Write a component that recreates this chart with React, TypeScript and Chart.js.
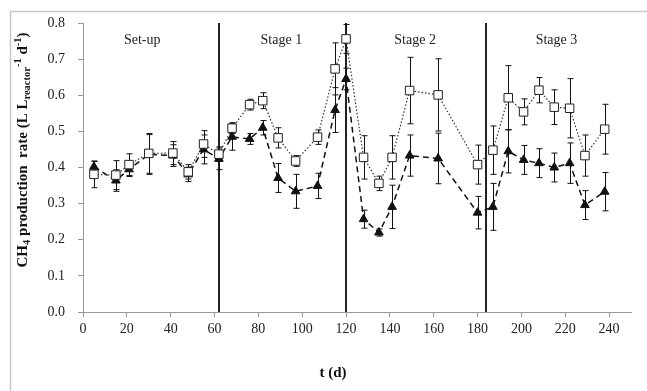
import React, { useEffect, useRef } from "react";
import { Chart, registerables } from "chart.js";

Chart.register(...registerables);

// ---- data ----
const days = [5, 15, 21, 30, 41, 48, 55, 62, 68, 76, 82, 89, 97, 107, 115, 120, 128, 135, 141, 149, 162, 180, 187, 194, 201, 208, 215, 222, 229, 238];
const squareValues = [0.381, 0.379, 0.408, 0.439, 0.44, 0.388, 0.465, 0.437, 0.509, 0.574, 0.585, 0.482, 0.418, 0.484, 0.673, 0.756, 0.428, 0.356, 0.428, 0.613, 0.601, 0.408, 0.448, 0.593, 0.554, 0.614, 0.567, 0.564, 0.433, 0.506];
const squareErrors = [0.037, 0.04, 0.03, 0.055, 0.032, 0.02, 0.037, 0.02, 0.015, 0.015, 0.022, 0.028, 0.015, 0.02, 0.072, 0.04, 0.06, 0.02, 0.06, 0.092, 0.1, 0.054, 0.067, 0.089, 0.036, 0.035, 0.048, 0.082, 0.057, 0.069];
const triangleValues = [0.402, 0.364, 0.395, 0.436, 0.433, 0.381, 0.45, 0.424, 0.485, 0.479, 0.51, 0.371, 0.334, 0.349, 0.559, 0.645, 0.257, 0.22, 0.291, 0.433, 0.425, 0.275, 0.291, 0.445, 0.421, 0.412, 0.4, 0.412, 0.296, 0.333];
const triangleErrors = [0.015, 0.03, 0.02, 0.055, 0.03, 0.02, 0.04, 0.03, 0.037, 0.015, 0.02, 0.04, 0.047, 0.035, 0.062, 0.03, 0.025, 0.01, 0.06, 0.057, 0.07, 0.045, 0.065, 0.06, 0.04, 0.04, 0.04, 0.056, 0.04, 0.053];
const stageBoundaries = [62, 120, 184];
const stageLabels = ["Set-up", "Stage 1", "Stage 2", "Stage 3"];
const stageLabelDays = [27, 90.5, 151.5, 216];
const stageLabelLevel = 0.753;
const xTitle = "t (d)";

const FONT = "'Liberation Serif', 'Times New Roman', serif";

const overlayPlugin = {
  id: "overlay",
  beforeDraw(chart: any) {
    const ctx = chart.ctx;
    ctx.save();
    ctx.fillStyle = "#ffffff";
    ctx.fillRect(0, 0, chart.width, chart.height);
    ctx.strokeStyle = "#c8c8c8";
    ctx.lineWidth = 1.5;
    ctx.beginPath();
    ctx.moveTo(10.5, chart.height);
    ctx.lineTo(10.5, 11.5);
    ctx.lineTo(chart.width, 11.5);
    ctx.stroke();
    ctx.restore();
  },
  beforeDatasetsDraw(chart: any) {
    const ctx = chart.ctx;
    const xs = chart.scales.x;
    const ys = chart.scales.y;
    ctx.save();
    // stage boundaries
    ctx.strokeStyle = "#222";
    ctx.lineWidth = 2;
    stageBoundaries.forEach((d) => {
      const px = Math.round(xs.getPixelForValue(d));
      ctx.beginPath();
      ctx.moveTo(px, ys.getPixelForValue(0.8));
      ctx.lineTo(px, ys.getPixelForValue(0));
      ctx.stroke();
    });
    // error bars
    ctx.strokeStyle = "#111";
    ctx.lineWidth = 1;
    const drawErr = (vals: number[], errs: number[]) => {
      vals.forEach((v, i) => {
        const px = Math.round(xs.getPixelForValue(days[i])) + 0.5;
        const top = ys.getPixelForValue(v + errs[i]);
        const bot = ys.getPixelForValue(v - errs[i]);
        ctx.beginPath();
        ctx.moveTo(px, top);
        ctx.lineTo(px, bot);
        ctx.moveTo(px - 3, top);
        ctx.lineTo(px + 3, top);
        ctx.moveTo(px - 3, bot);
        ctx.lineTo(px + 3, bot);
        ctx.stroke();
      });
    };
    drawErr(squareValues, squareErrors);
    drawErr(triangleValues, triangleErrors);
    // stage labels
    ctx.fillStyle = "#222";
    ctx.font = `14px ${FONT}`;
    ctx.textAlign = "center";
    ctx.textBaseline = "middle";
    stageLabels.forEach((s, i) => {
      ctx.fillText(s, xs.getPixelForValue(stageLabelDays[i]), ys.getPixelForValue(stageLabelLevel));
    });
    ctx.restore();
  },
  afterDraw(chart: any) {
    const ctx = chart.ctx;
    const area = chart.chartArea;
    ctx.save();
    ctx.fillStyle = "#111";
    // x title
    ctx.font = `bold 15px ${FONT}`;
    ctx.textAlign = "center";
    ctx.textBaseline = "middle";
    ctx.fillText(xTitle, (area.left + area.right) / 2 - 24, 373);
    // y title with sub/superscripts
    const segs = [
      { t: "CH", k: "n" },
      { t: "4", k: "sub" },
      { t: " production  rate (L L", k: "n" },
      { t: "reactor", k: "sub" },
      { t: "-1", k: "sup" },
      { t: " d", k: "n" },
      { t: "-1", k: "sup" },
      { t: ")", k: "n" },
    ];
    const fontFor = (k: string) => (k === "n" ? `bold 15px ${FONT}` : `bold 10.5px ${FONT}`);
    let total = 0;
    segs.forEach((s) => {
      ctx.font = fontFor(s.k);
      total += ctx.measureText(s.t).width;
    });
    ctx.translate(22, 150);
    ctx.rotate(-Math.PI / 2);
    ctx.textAlign = "left";
    ctx.textBaseline = "alphabetic";
    let x = -total / 2;
    segs.forEach((s) => {
      ctx.font = fontFor(s.k);
      const dy = s.k === "sub" ? 8 : s.k === "sup" ? -1.5 : 5;
      ctx.fillText(s.t, x, dy);
      x += ctx.measureText(s.t).width;
    });
    ctx.restore();
  },
};

export default function App() {
  const ref = useRef<HTMLCanvasElement | null>(null);
  useEffect(() => {
    document.body.style.margin = "0";
    const canvas = ref.current;
    if (!canvas) return;
    const chart = new Chart(canvas, {
      type: "line",
      data: {
        datasets: [
          {
            label: "squares",
            data: days.map((d, i) => ({ x: d, y: squareValues[i] })),
            borderColor: "#333",
            borderWidth: 1.2,
            borderDash: [1.5, 2],
            pointStyle: "rect",
            pointRadius: 6,
            pointBackgroundColor: "#ffffff",
            pointBorderColor: "#222",
            pointBorderWidth: 1,
            tension: 0,
          },
          {
            label: "triangles",
            data: days.map((d, i) => ({ x: d, y: triangleValues[i] })),
            borderColor: "#111",
            borderWidth: 1.5,
            borderDash: [6, 4],
            pointStyle: "triangle",
            pointRadius: 5,
            pointBackgroundColor: "#111",
            pointBorderColor: "#111",
            pointBorderWidth: 1,
            tension: 0,
          },
        ],
      },
      options: {
        animation: false,
        responsive: false,
        devicePixelRatio: 1,
        layout: { padding: { left: 0, top: 23, right: 16, bottom: 0 } },
        plugins: { legend: { display: false }, tooltip: { enabled: false } },
        scales: {
          x: {
            type: "linear",
            min: 0,
            max: 250,
            afterFit: (s: any) => {
              s.height = 79;
            },
            ticks: {
              stepSize: 20,
              includeBounds: false,
              color: "#222",
              font: { family: FONT, size: 14 },
              padding: 4,
              maxRotation: 0,
            },
            grid: { display: true, drawOnChartArea: false, drawTicks: true, tickLength: 5, color: "#999" },
            border: { display: true, color: "#999", width: 1 },
          },
          y: {
            min: 0,
            max: 0.8,
            afterFit: (s: any) => {
              s.width = 83;
            },
            ticks: {
              stepSize: 0.1,
              color: "#222",
              font: { family: FONT, size: 14 },
              padding: 13,
              callback: (v: any) => Number(v).toFixed(1),
            },
            grid: { display: true, drawOnChartArea: false, drawTicks: true, tickLength: 5, color: "#999" },
            border: { display: true, color: "#999", width: 1 },
          },
        },
      } as any,
      plugins: [overlayPlugin],
    });
    return () => chart.destroy();
  }, []);
  return <canvas ref={ref} width={647} height={391} style={{ display: "block" }} />;
}
